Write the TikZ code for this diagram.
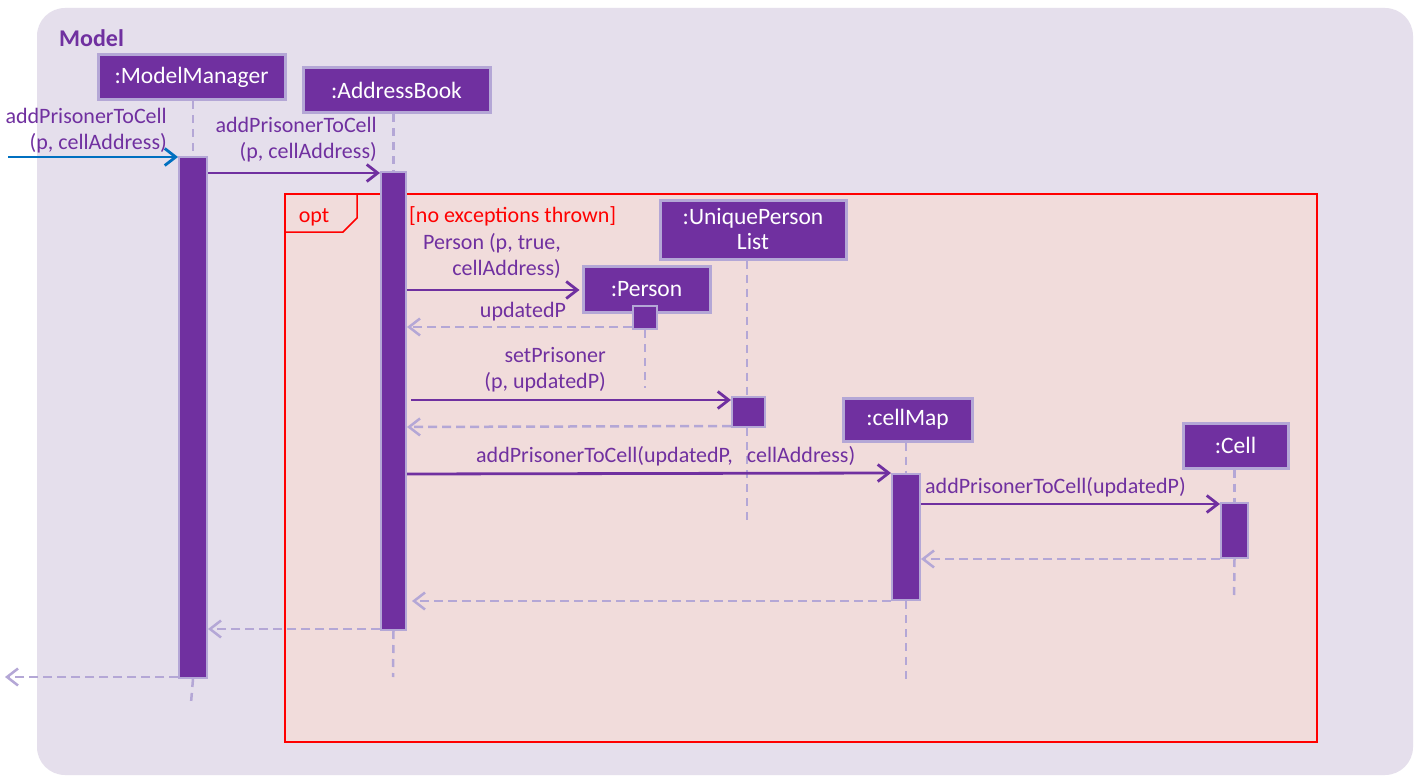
\documentclass[tikz,border=0pt]{standalone}
\usepackage{fontspec}
\setmainfont{Carlito}
\usetikzlibrary{arrows.meta}
\definecolor{pur}{HTML}{7030A0}
\definecolor{lav}{HTML}{B4A7D6}
\definecolor{bgc}{HTML}{E5DFEC}
\definecolor{optc}{HTML}{F1DCDB}
\definecolor{bluec}{HTML}{0070C0}
\definecolor{redc}{HTML}{FF0000}
\newcommand{\lblfont}{\fontsize{22}{26}\selectfont}
\newcommand{\objfont}{\fontsize{23.5}{26}\selectfont}
\begin{document}
\begin{tikzpicture}[x=1pt,y=-1pt,
  obj/.style={draw=lav, line width=3pt, fill=pur, text=white, inner sep=0pt, font=\objfont, align=center},
  act/.style={draw=lav, line width=2pt, fill=pur, inner sep=0pt},
  life/.style={draw=lav, line width=2.5pt, dash pattern=on 8pt off 6pt},
  msg/.style={draw=pur, line width=2.8pt, -{Straight Barb[length=11pt,width=17pt,line width=2.8pt]}},
  ret/.style={draw=lav, line width=2.5pt, dash pattern=on 9pt off 5pt, -{Straight Barb[length=11pt,width=17pt,line width=2.5pt]}},
  lbl/.style={text=pur, font=\lblfont, inner sep=0pt},
  redlbl/.style={text=redc, font=\lblfont, inner sep=0pt}
]
\useasboundingbox (0,0) rectangle (1417,781);
\fill[white] (0,0) rectangle (1417,781);
\fill[bgc, rounded corners=28pt] (37,8) rectangle (1413,775);
\node[text=pur, font=\fontsize{24}{26}\selectfont\bfseries, anchor=west, inner sep=0pt] (model) at (59,38) {Model};

% opt frame
\node[draw=redc, line width=1.5pt, fill=optc, minimum width=1032pt, minimum height=548pt, inner sep=0pt] (opt) at (801,468) {};
\draw[redc, line width=1.5pt] (opt.north west |- 0,232) -- (343,232) -- (357,218) -- (357,194);
\node[redlbl] (optlbl) at (314,217) {opt};

% lifeline boxes
\node[obj, minimum width=187pt, minimum height=45pt] (mm) at (191.5,77.5) {:ModelManager};
\node[obj, minimum width=187pt, minimum height=45pt] (ab) at (396.5,90.5) {:AddressBook};
\node[obj, minimum width=186pt, minimum height=59pt] (upl) at (753,229.5) {:UniquePerson\\[-1pt]List};
\node[obj, minimum width=127pt, minimum height=46pt] (per) at (646.5,289) {:Person};
\node[obj, minimum width=129pt, minimum height=43pt] (cm) at (907.5,419.5) {:cellMap};
\node[obj, minimum width=105pt, minimum height=45pt] (cell) at (1235.5,445.5) {:Cell};

% activation bars
\path (193,417.5) node[act, minimum width=28pt, minimum height=521pt] (mmact) {};
\path (393.5,401) node[act, minimum width=25pt, minimum height=458pt] (abact) {};
\path (645,317.5) node[act, minimum width=24pt, minimum height=23pt] (pact) {};
\path (748.5,412) node[act, minimum width=33pt, minimum height=30pt] (uact) {};
\path (906,537) node[act, minimum width=28pt, minimum height=126pt] (cmact) {};
\path (1234.5,530.5) node[act, minimum width=27pt, minimum height=55pt] (cact) {};

% lifeline ends
\coordinate (mmend) at (191,703);
\coordinate (abend) at (393,677);
\coordinate (pend) at (645,388);
\coordinate (uend) at (747,520);
\coordinate (cmend) at (906,680);
\coordinate (cend) at (1234,600);

\draw[life] (mmact.north |- mm.south) -- (mmact.north);
\draw[life] (mmact.south) -- (mmend);
\draw[life] (abact.north |- ab.south) -- (abact.north);
\draw[life] (abact.south) -- (abend);
\draw[life] (pact.south) -- (pend);
\draw[life] (uend |- upl.south) -- (uact.north -| uend);
\draw[life] (uact.south -| uend) -- (uend);
\draw[life] (cmact.north |- cm.south) -- (cmact.north);
\draw[life] (cmact.south) -- (cmend);
\draw[life] (cact.north |- cell.south) -- (cact.north);
\draw[life] (cact.south) -- (cend);

% redraw bars on top of lifelines
\path (193,417.5) node[act, minimum width=28pt, minimum height=521pt] {};
\path (393.5,401) node[act, minimum width=25pt, minimum height=458pt] {};
\path (645,317.5) node[act, minimum width=24pt, minimum height=23pt] {};
\path (748.5,412) node[act, minimum width=33pt, minimum height=30pt] {};
\path (906,537) node[act, minimum width=28pt, minimum height=126pt] {};
\path (1234.5,530.5) node[act, minimum width=27pt, minimum height=55pt] {};

% messages
\coordinate (in) at (8,157);
\coordinate (out) at (5,677);
\draw[msg, draw=bluec] (in) -- (mmact.west |- 0,157);
\draw[msg] (mmact.east |- 0,173) -- (abact.west |- 0,173);
\draw[msg] (abact.east |- 0,290) -- ([xshift=-2pt]per.west |- 0,290);
\draw[ret] (pact.west |- 0,327) -- (abact.east |- 0,327);
\draw[msg] ([xshift=4pt]abact.east |- 0,400) -- (uact.west |- 0,400);
\draw[ret] (uact.west |- 0,426) -- (abact.east |- 0,427);
\draw[msg] (abact.east |- 0,474) -- (cmact.west |- 0,473);
\draw[msg] (cmact.east |- 0,504) -- (cact.west |- 0,504);
\draw[ret] (cact.west |- 0,559) -- (cmact.east |- 0,559);
\draw[ret] (cmact.west |- 0,601) -- ([xshift=5pt]abact.east |- 0,601);
\draw[ret] (abact.west |- 0,629) -- (mmact.east |- 0,629);
\draw[ret] (mmact.west |- 0,677) -- (out);

% labels
\node[lbl, align=right, anchor=east] (l1) at (167,130.5) {addPrisonerToCell\\(p, cellAddress)};
\node[lbl, align=right, anchor=east] (l2) at (377,140) {addPrisonerToCell\\(p, cellAddress)};
\node[redlbl, anchor=west] (guard) at (409,216) {[no exceptions thrown]};
\node[lbl, align=right, anchor=east] (l3) at (561,256) {Person (p, true,\\cellAddress)};
\node[lbl] (l4) at (523,312) {updatedP};
\node[lbl, align=right, anchor=east] (l5) at (606,370) {setPrisoner\\(p, updatedP)};
\node[lbl, anchor=west] (l6) at (476,456) {addPrisonerToCell(updatedP,\hspace{14pt}cellAddress)};
\node[lbl, anchor=west] (l7) at (925,487) {addPrisonerToCell(updatedP)};
\end{tikzpicture}
\end{document}
